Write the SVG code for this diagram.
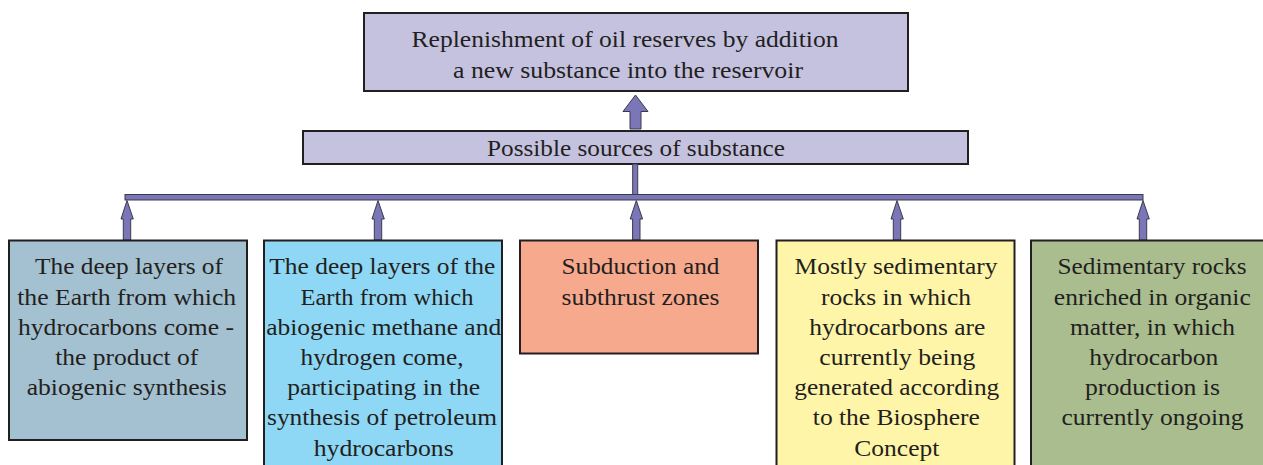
<svg xmlns="http://www.w3.org/2000/svg" width="1263" height="465" viewBox="0 0 1263 465">
<style>
text{font-family:"Liberation Serif","Times New Roman","DejaVu Serif",serif;font-size:24px;fill:#231f20;text-anchor:middle}
.box{stroke:#231f20;stroke-width:2}
.conn{fill:#7b76b8;stroke:#3a3a4a;stroke-width:1}
</style>
<rect width="1263" height="465" fill="#fff"/>
<g id="top">
<rect class="box" x="364" y="13" width="544" height="78" fill="#c5c2e0" stroke-width="1.2"/>
<text x="625" y="47" textLength="427" lengthAdjust="spacingAndGlyphs">Replenishment of oil reserves by addition</text>
<text x="628" y="78" textLength="350" lengthAdjust="spacingAndGlyphs">a new substance into the reservoir</text>
</g>
<g id="sources">
<rect class="box" x="303" y="131" width="665" height="33" fill="#c5c2e0" stroke-width="1.2"/>
<text x="636" y="156" textLength="298" lengthAdjust="spacingAndGlyphs">Possible sources of substance</text>
</g>
<g id="connectors">
<polygon class="conn" points="630,129 630,111.5 623,111.5 635.5,95 648,111.5 641,111.5 641,129"/>
<rect class="conn" x="632.7" y="164" width="5" height="31"/>
<rect class="conn" x="125" y="194.5" width="1018" height="5.5"/>
<polygon class="conn" points="123.3,240 123.3,219 121,219 127,200.5 133.3,219 130.7,219 130.7,240"/>
<polygon class="conn" points="374.3,240 374.3,219 372,219 378,200.5 384.3,219 381.7,219 381.7,240"/>
<polygon class="conn" points="632.6,240 632.6,219 630.2,219 636.3,200.5 642.6,219 640,219 640,240"/>
<polygon class="conn" points="893.3,240 893.3,219 891,219 897,200.5 903.3,219 900.7,219 900.7,240"/>
<polygon class="conn" points="1139.3,240 1139.3,219 1137,219 1143,200.5 1149.3,219 1146.7,219 1146.7,240"/>
</g>
<g id="n1">
<rect class="box" x="9" y="240.5" width="238" height="199.5" fill="#a3c1d1"/>
<text x="129" y="274" textLength="188" lengthAdjust="spacingAndGlyphs">The deep layers of</text>
<text x="126.7" y="304.5" textLength="219" lengthAdjust="spacingAndGlyphs">the Earth from which</text>
<text x="126" y="334.5" textLength="216" lengthAdjust="spacingAndGlyphs">hydrocarbons come -</text>
<text x="126.7" y="364.5" textLength="143" lengthAdjust="spacingAndGlyphs">the product of</text>
<text x="126.7" y="394.5" textLength="200" lengthAdjust="spacingAndGlyphs">abiogenic synthesis</text>
</g>
<g id="n2">
<rect class="box" x="264" y="240.5" width="238" height="230" fill="#8fd8f5"/>
<text x="382.3" y="274" textLength="226" lengthAdjust="spacingAndGlyphs">The deep layers of the</text>
<text x="387" y="304.5" textLength="173" lengthAdjust="spacingAndGlyphs">Earth from which</text>
<text x="383.7" y="334.5" textLength="235" lengthAdjust="spacingAndGlyphs">abiogenic methane and</text>
<text x="382" y="364.5" textLength="163" lengthAdjust="spacingAndGlyphs">hydrogen come,</text>
<text x="383.7" y="394.5" textLength="193" lengthAdjust="spacingAndGlyphs">participating in the</text>
<text x="382" y="425" textLength="230" lengthAdjust="spacingAndGlyphs">synthesis of petroleum</text>
<text x="383.7" y="455.5" textLength="140" lengthAdjust="spacingAndGlyphs">hydrocarbons</text>
</g>
<g id="n3">
<rect class="box" x="520" y="240.5" width="238" height="113" fill="#f7a98e"/>
<text x="640.5" y="274" textLength="158" lengthAdjust="spacingAndGlyphs">Subduction and</text>
<text x="640.5" y="304.5" textLength="158" lengthAdjust="spacingAndGlyphs">subthrust zones</text>
</g>
<g id="n4">
<rect class="box" x="776.5" y="240.5" width="238" height="230" fill="#fff5a8"/>
<text x="896" y="274" textLength="203" lengthAdjust="spacingAndGlyphs">Mostly sedimentary</text>
<text x="896" y="304.5" textLength="150" lengthAdjust="spacingAndGlyphs">rocks in which</text>
<text x="897.3" y="334.5" textLength="176" lengthAdjust="spacingAndGlyphs">hydrocarbons are</text>
<text x="897.3" y="364.5" textLength="156" lengthAdjust="spacingAndGlyphs">currently being</text>
<text x="896.8" y="394.5" textLength="205" lengthAdjust="spacingAndGlyphs">generated according</text>
<text x="896.3" y="425" textLength="167" lengthAdjust="spacingAndGlyphs">to the Biosphere</text>
<text x="896.8" y="455.5" textLength="85" lengthAdjust="spacingAndGlyphs">Concept</text>
</g>
<g id="n5">
<rect class="box" x="1031" y="240.5" width="240" height="230" fill="#a9bd8f"/>
<text x="1152" y="274" textLength="189" lengthAdjust="spacingAndGlyphs">Sedimentary rocks</text>
<text x="1152.3" y="304.5" textLength="197" lengthAdjust="spacingAndGlyphs">enriched in organic</text>
<text x="1152.5" y="334.5" textLength="165" lengthAdjust="spacingAndGlyphs">matter, in which</text>
<text x="1153.8" y="364.5" textLength="129" lengthAdjust="spacingAndGlyphs">hydrocarbon</text>
<text x="1152.5" y="394.5" textLength="135" lengthAdjust="spacingAndGlyphs">production is</text>
<text x="1152.5" y="425" textLength="182" lengthAdjust="spacingAndGlyphs">currently ongoing</text>
</g>
</svg>
